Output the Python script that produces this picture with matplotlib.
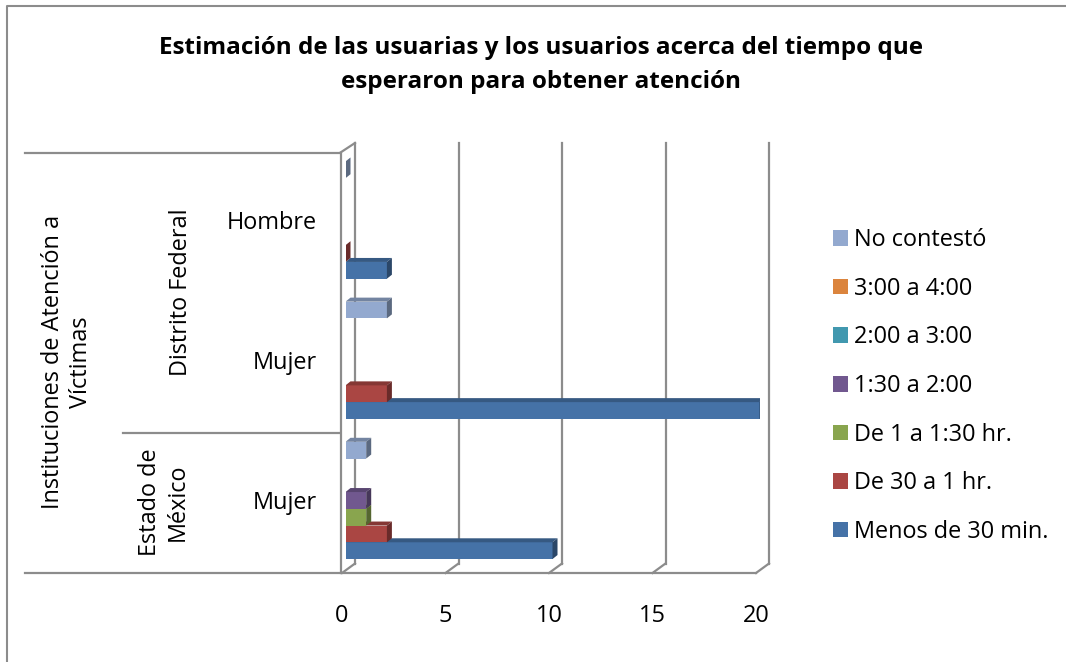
import numpy as np
import matplotlib
matplotlib.use("Agg")
import matplotlib.pyplot as plt
from matplotlib.patches import Polygon, Patch
from matplotlib.lines import Line2D
import matplotlib.colors as mcolors

plt.rcParams['font.family'] = ['Open Sans', 'DejaVu Sans']

# ---------------- data ----------------
categories = ["Mujer", "Mujer", "Hombre"]          # bottom -> top
groups = ["Estado de\nMéxico", "Distrito Federal"]
outer_label = "Instituciones de Atención a\nVíctimas"
series = ["Menos de 30 min.", "De 30 a 1 hr.", "De 1 a 1:30 hr.", "1:30 a 2:00",
          "2:00 a 3:00", "3:00 a 4:00", "No contestó"]
colors = ["#4572A7", "#AA4643", "#89A54E", "#71588F", "#4198AF", "#DB843D", "#93A9CF"]
nan = np.nan
menos_30 = [10, 20, 2]
de_30_a_1 = [2, 2, 0]
de_1_a_130 = [1, nan, nan]
de_130_a_2 = [1, nan, nan]
de_2_a_3 = [nan, nan, nan]
de_3_a_4 = [nan, nan, nan]
no_contesto = [1, 2, 0]
values = [menos_30, de_30_a_1, de_1_a_130, de_130_a_2, de_2_a_3, de_3_a_4, no_contesto]
xticks = [0, 5, 10, 15, 20]
title = "Estimación de las usuarias y los usuarios acerca del tiempo que\nesperaron para obtener atención"

# ---------------- figure ----------------
W, H = 1066, 662
fig = plt.figure(figsize=(W / 100, H / 100), dpi=100)
fig.patch.set_facecolor("white")

def fx(x):
    return x / W

def fy(y):
    return 1 - y / H

FS = 16.9

# bar plane axes (pixel box)
L, R, T, B = 345.5, 759.5, 150.0, 570.5
ax = fig.add_axes([fx(L), fy(B), (R - L) / W, (B - T) / H])
ax.set_xlim(0, 20)
ax.set_ylim(-0.5, 2.5)
ax.axis("off")

sx = 20 / (R - L)      # data units per px (x)
sy = 3 / (B - T)       # data units per px (y)

# 3D offsets (px)
front_dx, front_dy = -3.5, -2.5    # dy positive = up
back_dx, back_dy = 9.5, 7.0
depth_dx, depth_dy = 5.0, 4.0

grid_col = "#8C8C8C"
ymin, ymax = -0.5, 2.5

def line(xs, ys, **kw):
    ax.add_line(Line2D(xs, ys, color=kw.get("color", grid_col), lw=kw.get("lw", 1.6),
                       clip_on=False, zorder=kw.get("zorder", 1)))

# back wall gridlines + floor diagonals
for v in xticks:
    bx = v + back_dx * sx
    fxv = v + front_dx * sx
    line([bx, bx], [ymin + back_dy * sy, ymax + back_dy * sy])
    line([bx, fxv], [ymin + back_dy * sy, ymin + front_dy * sy])
# floor front edge
line([0 + front_dx * sx, 20 + front_dx * sx], [ymin + front_dy * sy, ymin + front_dy * sy])
# left wall front edge & top diagonal
lw_x = front_dx * sx - 1.5 * sx
line([lw_x, lw_x], [ymin + front_dy * sy, ymax + front_dy * sy])
line([lw_x, back_dx * sx], [ymax + front_dy * sy, ymax + back_dy * sy])

# ---------------- bars ----------------
slot = 16.75 * sy
dx, dy = depth_dx * sx, depth_dy * sy

def darker(c, f=0.68):
    r, g, b = mcolors.to_rgb(c)
    return (r * f, g * f, b * f)

for j, (name, col, vals) in enumerate(zip(series, colors, values)):
    for i, v in enumerate(vals):
        if np.isnan(v):
            continue
        yc = i + (j - 3) * slot
        y0, y1 = yc - slot / 2, yc + slot / 2
        z = 3 + j
        ax.barh(yc, v, height=slot, left=0, color=col, edgecolor="none", zorder=z)
        top = Polygon([(0, y1), (v, y1), (v + dx, y1 + dy), (dx, y1 + dy)],
                      closed=True, facecolor=darker(col, 0.78), edgecolor="none", zorder=z)
        side = Polygon([(v, y0), (v, y1), (v + dx, y1 + dy), (v + dx, y0 + dy)],
                       closed=True, facecolor=darker(col, 0.62), edgecolor="none", zorder=z)
        ax.add_patch(top)
        ax.add_patch(side)

# x tick labels (front plane)
for v in xticks:
    ax.text(v + front_dx * sx, ymin - 46 * sy, str(v), ha="center", va="center",
            fontsize=FS, color="black")

# ---------------- left hierarchical labels ----------------
def fline(x0, y0, x1, y1):
    fig.add_artist(Line2D([fx(x0), fx(x1)], [fy(y0), fy(y1)], color=grid_col, lw=1.6,
                          transform=fig.transFigure))

fline(25, 152.5, 340, 152.5)
fline(25, 573, 340, 573)
fline(123, 433, 340, 433)

for i, c in enumerate(categories):
    ypx = B - (i + 0.5) * (B - T) / 3 + 2.5
    fig.text(fx(317), fy(ypx), c, ha="right", va="center", fontsize=FS)

fig.text(fx(164), fy(502), groups[0], ha="center", va="center", rotation=90,
         fontsize=FS, multialignment="center", linespacing=1.25)
fig.text(fx(181), fy(292), groups[1], ha="center", va="center", rotation=90,
         fontsize=FS)
fig.text(fx(67), fy(362), outer_label, ha="center", va="center", rotation=90,
         fontsize=FS, multialignment="center", linespacing=1.25)

# ---------------- title ----------------
fig.text(fx(541), fy(65), title, ha="center", va="center", fontsize=17.5,
         fontweight="bold", linespacing=1.6)

# ---------------- legend ----------------
handles = [Patch(facecolor=c, edgecolor="none") for c in colors][::-1]
leg = fig.legend(handles, series[::-1], loc="upper left",
                 bbox_to_anchor=(fx(833), fy(228)), bbox_transform=fig.transFigure,
                 frameon=False, fontsize=FS, handlelength=0.65, handleheight=0.65,
                 handletextpad=0.25, labelspacing=1.05, borderpad=0, borderaxespad=0)

# chart border (left & top visible)
fig.add_artist(Line2D([fx(7), fx(7), fx(1070)], [fy(700), fy(6), fy(6)],
                      color="#8C8C8C", lw=1.5, transform=fig.transFigure))

fig.savefig("out.png", dpi=100, facecolor="white")
